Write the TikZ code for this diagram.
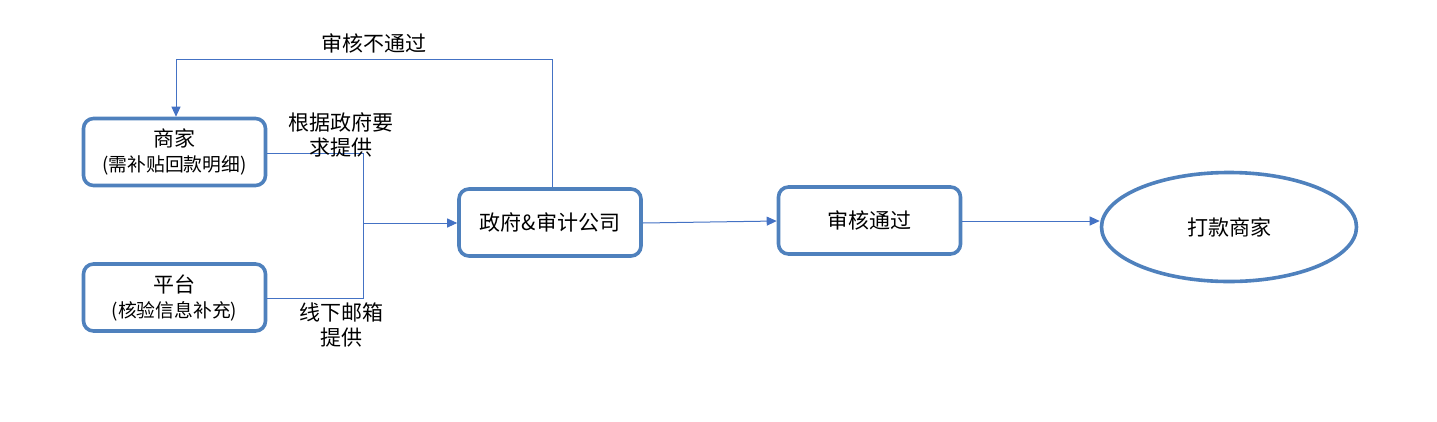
\documentclass[tikz,border=0pt]{standalone}
\usepackage{fontspec}
\setmainfont{Noto Sans CJK SC}
\usetikzlibrary{shapes.geometric, arrows.meta}

\definecolor{boxblue}{RGB}{79,129,189}
\definecolor{lineblue}{RGB}{68,114,196}

\begin{document}
\begin{tikzpicture}[x=1pt,y=-1pt,
  box/.style={draw=boxblue, line width=3.6pt, rounded corners=10pt, fill=white,
    minimum width=182pt, minimum height=67pt, align=center, inner sep=0pt},
  oval/.style={draw=boxblue, line width=3.6pt, ellipse, fill=white,
    minimum width=255pt, minimum height=109pt, inner sep=0pt},
  link/.style={draw=lineblue, line width=1pt},
  arr/.style={link, -{Triangle[length=10pt,width=9pt]}},
  big/.style={font=\fontsize{21}{25}\selectfont},
  lbl/.style={big, align=center, inner sep=0pt}]
\newcommand\subline[1]{{\fontsize{18.8}{25}\selectfont #1}}
\useasboundingbox (0,0) rectangle (1437,421);
\node[box, big] (merchant) at (174.5,152) {商家\\\subline{(需补贴回款明细)}};
\node[box, big] (platform) at (174.5,297.5) {平台\\\subline{(核验信息补充)}};
\node[box, big] (audit) at (550,222.5) {政府\&审计公司};
\node[box, big] (pass) at (869.5,220.5) {审核通过};
\node[oval, big] (pay) at (1229,227) {打款商家};
\coordinate (join) at (363,223);
\coordinate (topR) at (552,59);
\coordinate (topL) at (176,59);
% merchant and platform merge
\draw[link] (merchant.east |- 0,153) -| (join);
\draw[link] (platform.east |- 0,298) -| (join);
\draw[arr] (join) -- (audit.west |- join);
\draw[arr] (audit.east |- 0,223) -- (pass.west |- 0,221);
\draw[arr] (pass.east |- 0,221) -- (pay.west |- 0,221);
% rejected path
\draw[arr] (audit.north -| topR) -- (topR) -- (topL) -- (merchant.north -| topL);
\node[lbl] (reject) at (374,43) {审核不通过};
\node[lbl] (req) at (341,135) {根据政府要\\求提供};
\node[lbl] (mail) at (341,325) {线下邮箱\\提供};
\end{tikzpicture}
\end{document}
